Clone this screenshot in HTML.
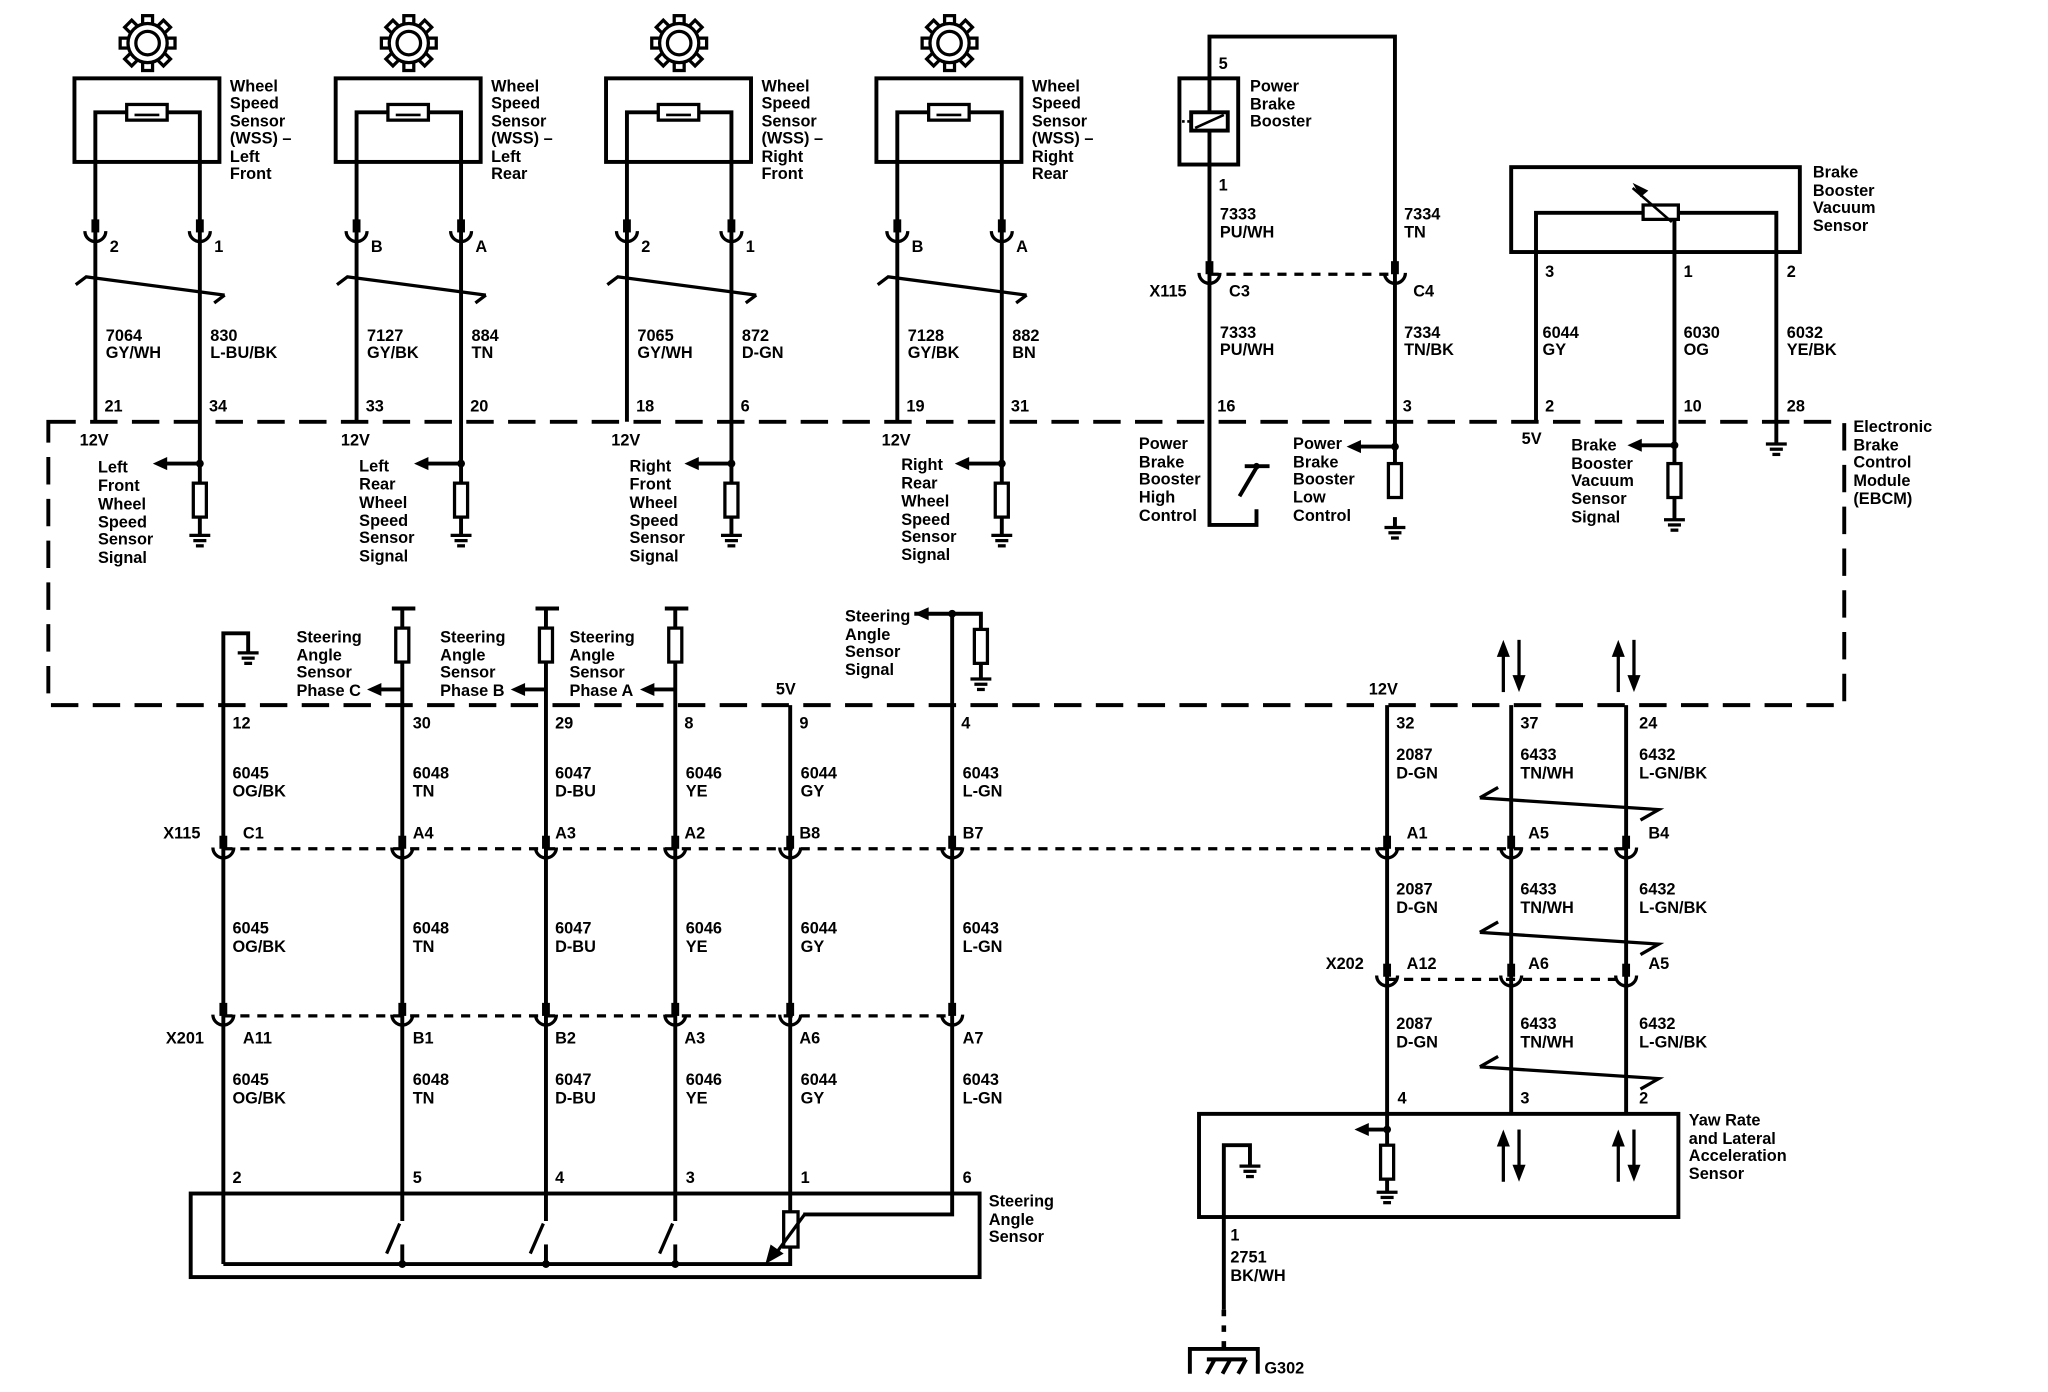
<!DOCTYPE html>
<html><head><meta charset="utf-8"><style>
html,body{margin:0;padding:0;background:#fff;width:2048px;height:1392px;overflow:hidden}
svg{display:block}
text{font-family:"Liberation Sans",Arial,sans-serif;font-size:12.5px;font-weight:bold;fill:#000}
</style></head><body>
<svg width="2048" height="1392" viewBox="0 0 1568 1066" preserveAspectRatio="none">
<defs>
<rect id="tooth" x="12" y="-3.8" width="9" height="7.6" fill="#fff" stroke="#000" stroke-width="2.5"/>
<g id="gear">
<use href="#tooth"/><use href="#tooth" transform="rotate(45)"/><use href="#tooth" transform="rotate(90)"/><use href="#tooth" transform="rotate(135)"/>
<use href="#tooth" transform="rotate(180)"/><use href="#tooth" transform="rotate(225)"/><use href="#tooth" transform="rotate(270)"/><use href="#tooth" transform="rotate(315)"/>
<circle r="15" fill="#fff" stroke="#000" stroke-width="2.5"/>
<circle r="9" fill="none" stroke="#000" stroke-width="2.5"/>
</g>
<g id="gnd" stroke="#000" stroke-width="2.5">
<line x1="-8" y1="0" x2="8" y2="0"/><line x1="-5" y1="4" x2="5" y2="4"/><line x1="-3" y1="8" x2="3" y2="8"/>
</g>
<g id="cup" fill="none" stroke="#000">
<line x1="0" y1="-12" x2="0" y2="-2" stroke-width="6"/>
<path d="M-8,-3 A8,8 0 0 0 8,-3" stroke-width="2.5"/>
</g>
<g id="res"><rect x="-5" y="0" width="10" height="26" fill="#fff" stroke="#000" stroke-width="2.5"/></g>
<g id="al"><polygon points="0,-5 -11,0 0,5" fill="#000"/></g>
</defs>
<g stroke="#000" stroke-width="2.5" fill="none">
<rect x="37" y="323" width="1375" height="217" stroke-width="3" stroke-dasharray="21 11"/>
</g>

<g id="wss">
<use href="#gear" x="113" y="33"/>
<g stroke="#000" stroke-width="3" fill="none">
<rect x="57" y="60" width="111" height="64"/>
<polyline points="73,323 73,86 97,86"/>
<polyline points="128,86 153,86 153,370"/>
<rect x="97" y="80" width="31" height="12" stroke-width="2.5"/>
<line x1="103" y1="88" x2="122" y2="88" stroke-width="2"/>
<line x1="153" y1="355" x2="126" y2="355"/>
<line x1="153" y1="396" x2="153" y2="410"/>
<polyline points="58,218 66,212 172,226" stroke-width="2.5"/>
<line x1="172" y1="226" x2="164" y2="232" stroke-width="2.5"/>
</g>
<circle cx="153" cy="355" r="3"/>
<use href="#al" x="128" y="355"/>
<use href="#res" x="153" y="370"/>
<use href="#gnd" x="153" y="410"/>
<use href="#cup" x="73" y="180"/><use href="#cup" x="153" y="180"/>
</g>
<use href="#wss" x="200"/>
<use href="#wss" x="407"/>
<use href="#wss" x="614"/>

<text x="176" y="70">Wheel</text><text x="176" y="83">Speed</text><text x="176" y="97">Sensor</text><text x="176" y="110">(WSS) –</text><text x="176" y="124">Left</text><text x="176" y="137">Front</text>
<text x="376" y="70">Wheel</text><text x="376" y="83">Speed</text><text x="376" y="97">Sensor</text><text x="376" y="110">(WSS) –</text><text x="376" y="124">Left</text><text x="376" y="137">Rear</text>
<text x="583" y="70">Wheel</text><text x="583" y="83">Speed</text><text x="583" y="97">Sensor</text><text x="583" y="110">(WSS) –</text><text x="583" y="124">Right</text><text x="583" y="137">Front</text>
<text x="790" y="70">Wheel</text><text x="790" y="83">Speed</text><text x="790" y="97">Sensor</text><text x="790" y="110">(WSS) –</text><text x="790" y="124">Right</text><text x="790" y="137">Rear</text>

<text x="84" y="193">2</text><text x="164" y="193">1</text>
<text x="284" y="193">B</text><text x="364" y="193">A</text>
<text x="491" y="193">2</text><text x="571" y="193">1</text>
<text x="698" y="193">B</text><text x="778" y="193">A</text>

<text x="81" y="261">7064</text><text x="81" y="274">GY/WH</text><text x="161" y="261">830</text><text x="161" y="274">L-BU/BK</text>
<text x="281" y="261">7127</text><text x="281" y="274">GY/BK</text><text x="361" y="261">884</text><text x="361" y="274">TN</text>
<text x="488" y="261">7065</text><text x="488" y="274">GY/WH</text><text x="568" y="261">872</text><text x="568" y="274">D-GN</text>
<text x="695" y="261">7128</text><text x="695" y="274">GY/BK</text><text x="775" y="261">882</text><text x="775" y="274">BN</text>

<text x="80" y="315">21</text><text x="160" y="315">34</text>
<text x="280" y="315">33</text><text x="360" y="315">20</text>
<text x="487" y="315">18</text><text x="567" y="315">6</text>
<text x="694" y="315">19</text><text x="774" y="315">31</text>

<text x="61" y="341">12V</text><text x="261" y="341">12V</text><text x="468" y="341">12V</text><text x="675" y="341">12V</text>

<g>
<text x="75" y="362">Left</text><text x="75" y="376">Front</text><text x="75" y="390">Wheel</text><text x="75" y="404">Speed</text><text x="75" y="417">Sensor</text><text x="75" y="431">Signal</text>
<text x="275" y="361">Left</text><text x="275" y="375">Rear</text><text x="275" y="389">Wheel</text><text x="275" y="403">Speed</text><text x="275" y="416">Sensor</text><text x="275" y="430">Signal</text>
<text x="482" y="361">Right</text><text x="482" y="375">Front</text><text x="482" y="389">Wheel</text><text x="482" y="403">Speed</text><text x="482" y="416">Sensor</text><text x="482" y="430">Signal</text>
<text x="690" y="360">Right</text><text x="690" y="374">Rear</text><text x="690" y="388">Wheel</text><text x="690" y="402">Speed</text><text x="690" y="415">Sensor</text><text x="690" y="429">Signal</text>
</g>

<g stroke="#000" stroke-width="3" fill="none">
<polyline points="926,86 926,28 1068,28 1068,370"/>
<polyline points="926,100 926,402 962,402 962,390"/>
<rect x="903" y="60" width="45" height="66"/>
<rect x="912" y="86" width="28" height="14"/>
<line x1="915" y1="98" x2="937" y2="88" stroke-width="2"/>
<line x1="905" y1="93" x2="912" y2="93" stroke-width="2" stroke-dasharray="2 2"/>
<line x1="926" y1="210" x2="1068" y2="210" stroke-dasharray="7 6" stroke-width="2.5"/>
<line x1="949" y1="380" x2="962" y2="358"/>
<line x1="953" y1="357" x2="972" y2="357"/>
<line x1="1068" y1="342" x2="1040" y2="342"/>
<line x1="1068" y1="396" x2="1068" y2="404"/>
</g>
<circle cx="1068" cy="342" r="3"/><circle cx="962" cy="357" r="2.5"/>
<use href="#al" x="1042" y="342"/>
<use href="#res" x="1068" y="355"/>
<use href="#gnd" x="1068" y="404"/>
<use href="#cup" x="926" y="212"/><use href="#cup" x="1068" y="212"/>
<text x="933" y="53">5</text>
<text x="957" y="70">Power</text><text x="957" y="84">Brake</text><text x="957" y="97">Booster</text>
<text x="933" y="146">1</text>
<text x="934" y="168">7333</text><text x="934" y="182">PU/WH</text>
<text x="1075" y="168">7334</text><text x="1075" y="182">TN</text>
<text x="880" y="227">X115</text><text x="941" y="227">C3</text><text x="1082" y="227">C4</text>
<text x="934" y="259">7333</text><text x="934" y="272">PU/WH</text>
<text x="1075" y="259">7334</text><text x="1075" y="272">TN/BK</text>
<text x="932" y="315">16</text><text x="1074" y="315">3</text>
<text x="872" y="344">Power</text><text x="872" y="358">Brake</text><text x="872" y="371">Booster</text><text x="872" y="385">High</text><text x="872" y="399">Control</text>
<text x="990" y="344">Power</text><text x="990" y="358">Brake</text><text x="990" y="371">Booster</text><text x="990" y="385">Low</text><text x="990" y="399">Control</text>

<g stroke="#000" stroke-width="3" fill="none">
<rect x="1157" y="128" width="221" height="65"/>
<polyline points="1176,323 1176,163 1258,163"/>
<polyline points="1285,163 1360,163 1360,340"/>
<line x1="1282" y1="168" x2="1282" y2="355"/>
<rect x="1258" y="157" width="27" height="11" stroke-width="2.5"/>
<line x1="1250" y1="144" x2="1280" y2="170" stroke-width="2"/>
<line x1="1282" y1="341" x2="1255" y2="341"/>
<line x1="1282" y1="381" x2="1282" y2="398"/>
</g>
<polygon points="1250,140 1262,146 1256,151" fill="#000"/>
<circle cx="1282" cy="341" r="3"/>
<use href="#al" x="1257" y="341"/>
<use href="#res" x="1282" y="355"/>
<use href="#gnd" x="1282" y="398"/>
<use href="#gnd" x="1360" y="340"/>
<text x="1388" y="136">Brake</text><text x="1388" y="150">Booster</text><text x="1388" y="163">Vacuum</text><text x="1388" y="177">Sensor</text>
<text x="1183" y="212">3</text><text x="1289" y="212">1</text><text x="1368" y="212">2</text>
<text x="1181" y="259">6044</text><text x="1181" y="272">GY</text>
<text x="1289" y="259">6030</text><text x="1289" y="272">OG</text>
<text x="1368" y="259">6032</text><text x="1368" y="272">YE/BK</text>
<text x="1183" y="315">2</text><text x="1289" y="315">10</text><text x="1368" y="315">28</text>
<text x="1165" y="340">5V</text>
<text x="1203" y="345">Brake</text><text x="1203" y="359">Booster</text><text x="1203" y="372">Vacuum</text><text x="1203" y="386">Sensor</text><text x="1203" y="400">Signal</text>
<text x="1419" y="331">Electronic</text><text x="1419" y="345">Brake</text><text x="1419" y="358">Control</text><text x="1419" y="372">Module</text><text x="1419" y="386">(EBCM)</text>

<g stroke="#000" stroke-width="3" fill="none">
<polyline points="171,968 171,485 190,485 190,500"/>
<line x1="308" y1="466" x2="308" y2="935"/>
<line x1="418" y1="466" x2="418" y2="935"/>
<line x1="517" y1="466" x2="517" y2="935"/>
<line x1="300" y1="466" x2="318" y2="466"/>
<line x1="410" y1="466" x2="428" y2="466"/>
<line x1="509" y1="466" x2="527" y2="466"/>
<line x1="605" y1="540" x2="605" y2="930"/>
<polyline points="729,470 729,930 615,930"/>
<polyline points="700,470 751,470 751,482"/>
<line x1="751" y1="508" x2="751" y2="520"/>
<line x1="308" y1="528" x2="290" y2="528"/>
<line x1="418" y1="528" x2="400" y2="528"/>
<line x1="517" y1="528" x2="499" y2="528"/>
<line x1="171" y1="650" x2="1245" y2="650" stroke-dasharray="7 6" stroke-width="2.5"/>
<line x1="171" y1="778" x2="729" y2="778" stroke-dasharray="7 6" stroke-width="2.5"/>
<rect x="146" y="914" width="604" height="64"/>
<polyline points="171,968 605,968 605,955"/>
<line x1="308" y1="953" x2="308" y2="968"/><line x1="418" y1="953" x2="418" y2="968"/><line x1="517" y1="953" x2="517" y2="968"/>
<line x1="296" y1="960" x2="306" y2="937" stroke-width="2.5"/>
<line x1="406" y1="960" x2="416" y2="937" stroke-width="2.5"/>
<line x1="505" y1="960" x2="515" y2="937" stroke-width="2.5"/>
</g>
<rect x="303" y="481" width="10" height="26" fill="#fff" stroke="#000" stroke-width="2.5"/>
<rect x="413" y="481" width="10" height="26" fill="#fff" stroke="#000" stroke-width="2.5"/>
<rect x="512" y="481" width="10" height="26" fill="#fff" stroke="#000" stroke-width="2.5"/>
<use href="#res" x="751" y="482"/>
<use href="#gnd" x="751" y="520"/>
<use href="#gnd" x="190" y="500"/>
<circle cx="729" cy="470" r="3"/>
<use href="#al" x="711" y="470"/>
<use href="#al" x="292" y="528"/><use href="#al" x="402" y="528"/><use href="#al" x="501" y="528"/>
<rect x="600" y="928" width="11" height="27" fill="#fff" stroke="#000" stroke-width="2.5"/>
<line x1="616" y1="930" x2="594" y2="960" stroke="#000" stroke-width="2.5"/>
<polygon points="586,968 590,953 600,960" fill="#000"/>
<circle cx="308" cy="968" r="3"/><circle cx="418" cy="968" r="3"/><circle cx="517" cy="968" r="3"/>

<text x="227" y="492">Steering</text><text x="227" y="506">Angle</text><text x="227" y="519">Sensor</text><text x="227" y="533">Phase C</text>
<text x="337" y="492">Steering</text><text x="337" y="506">Angle</text><text x="337" y="519">Sensor</text><text x="337" y="533">Phase B</text>
<text x="436" y="492">Steering</text><text x="436" y="506">Angle</text><text x="436" y="519">Sensor</text><text x="436" y="533">Phase A</text>
<text x="594" y="532">5V</text>
<text x="647" y="476">Steering</text><text x="647" y="490">Angle</text><text x="647" y="503">Sensor</text><text x="647" y="517">Signal</text>

<text x="178" y="558">12</text><text x="316" y="558">30</text><text x="425" y="558">29</text><text x="524" y="558">8</text><text x="612" y="558">9</text><text x="736" y="558">4</text>
<g>
<text x="178" y="596">6045</text><text x="178" y="610">OG/BK</text>
<text x="316" y="596">6048</text><text x="316" y="610">TN</text>
<text x="425" y="596">6047</text><text x="425" y="610">D-BU</text>
<text x="525" y="596">6046</text><text x="525" y="610">YE</text>
<text x="613" y="596">6044</text><text x="613" y="610">GY</text>
<text x="737" y="596">6043</text><text x="737" y="610">L-GN</text>
</g>
<text x="125" y="642">X115</text><text x="186" y="642">C1</text><text x="316" y="642">A4</text><text x="425" y="642">A3</text><text x="524" y="642">A2</text><text x="612" y="642">B8</text><text x="737" y="642">B7</text>
<use href="#cup" x="171" y="652"/><use href="#cup" x="308" y="652"/><use href="#cup" x="418" y="652"/><use href="#cup" x="517" y="652"/><use href="#cup" x="605" y="652"/><use href="#cup" x="729" y="652"/>
<g>
<text x="178" y="715">6045</text><text x="178" y="729">OG/BK</text>
<text x="316" y="715">6048</text><text x="316" y="729">TN</text>
<text x="425" y="715">6047</text><text x="425" y="729">D-BU</text>
<text x="525" y="715">6046</text><text x="525" y="729">YE</text>
<text x="613" y="715">6044</text><text x="613" y="729">GY</text>
<text x="737" y="715">6043</text><text x="737" y="729">L-GN</text>
</g>
<use href="#cup" x="171" y="780"/><use href="#cup" x="308" y="780"/><use href="#cup" x="418" y="780"/><use href="#cup" x="517" y="780"/><use href="#cup" x="605" y="780"/><use href="#cup" x="729" y="780"/>
<text x="127" y="799">X201</text><text x="186" y="799">A11</text><text x="316" y="799">B1</text><text x="425" y="799">B2</text><text x="524" y="799">A3</text><text x="612" y="799">A6</text><text x="737" y="799">A7</text>
<g>
<text x="178" y="831">6045</text><text x="178" y="845">OG/BK</text>
<text x="316" y="831">6048</text><text x="316" y="845">TN</text>
<text x="425" y="831">6047</text><text x="425" y="845">D-BU</text>
<text x="525" y="831">6046</text><text x="525" y="845">YE</text>
<text x="613" y="831">6044</text><text x="613" y="845">GY</text>
<text x="737" y="831">6043</text><text x="737" y="845">L-GN</text>
</g>
<text x="178" y="906">2</text><text x="316" y="906">5</text><text x="425" y="906">4</text><text x="525" y="906">3</text><text x="613" y="906">1</text><text x="737" y="906">6</text>
<text x="757" y="924">Steering</text><text x="757" y="938">Angle</text><text x="757" y="951">Sensor</text>

<g stroke="#000" stroke-width="3" fill="none">
<line x1="1062" y1="540" x2="1062" y2="877"/>
<line x1="1157" y1="540" x2="1157" y2="853"/>
<line x1="1245" y1="540" x2="1245" y2="853"/>
<line x1="1062" y1="750" x2="1245" y2="750" stroke-dasharray="7 6" stroke-width="2.5"/>
<rect x="918" y="853" width="367" height="79"/>
<line x1="1062" y1="865" x2="1045" y2="865"/>
<line x1="1062" y1="903" x2="1062" y2="913"/>
<polyline points="937,1003 937,877 957,877 957,893"/>
<line x1="937" y1="1003" x2="937" y2="1033" stroke-dasharray="5 7" stroke-width="3.5"/>
<polyline points="911,1052 911,1033 963,1033 963,1052"/>
<line x1="924" y1="1052" x2="930" y2="1041"/>
<line x1="936" y1="1052" x2="942" y2="1041"/>
<line x1="948" y1="1052" x2="954" y2="1041"/>
<line x1="924" y1="1041" x2="954" y2="1041"/>
</g>
<g stroke="#000" stroke-width="2.5" fill="none">
<polyline points="1133,611 1147,603"/><polyline points="1133,611 1270,620 1256,628"/>
<polyline points="1133,714 1147,706"/><polyline points="1133,714 1270,723 1256,731"/>
<polyline points="1133,817 1147,809"/><polyline points="1133,817 1270,826 1256,834"/>
</g>
<g id="ud" stroke="#000" stroke-width="2.5">
<line x1="1151" y1="530" x2="1151" y2="500"/><polygon points="1146,503 1151,490 1156,503" fill="#000" stroke="none"/>
<line x1="1163" y1="490" x2="1163" y2="520"/><polygon points="1158,517 1163,530 1168,517" fill="#000" stroke="none"/>
</g>
<use href="#ud" x="88"/>
<use href="#ud" y="375"/>
<use href="#ud" x="88" y="375"/>
<circle cx="1062" cy="865" r="3"/>
<use href="#al" x="1048" y="865"/>
<use href="#res" x="1062" y="877"/>
<use href="#gnd" x="1062" y="913"/>
<use href="#gnd" x="957" y="893"/>
<use href="#cup" x="1062" y="652"/><use href="#cup" x="1157" y="652"/><use href="#cup" x="1245" y="652"/>
<use href="#cup" x="1062" y="750"/><use href="#cup" x="1157" y="750"/><use href="#cup" x="1245" y="750"/>
<text x="1048" y="532">12V</text>
<text x="1069" y="558">32</text><text x="1164" y="558">37</text><text x="1255" y="558">24</text>
<text x="1069" y="582">2087</text><text x="1069" y="596">D-GN</text><text x="1164" y="582">6433</text><text x="1164" y="596">TN/WH</text><text x="1255" y="582">6432</text><text x="1255" y="596">L-GN/BK</text>
<text x="1077" y="642">A1</text><text x="1170" y="642">A5</text><text x="1262" y="642">B4</text>
<text x="1069" y="685">2087</text><text x="1069" y="699">D-GN</text><text x="1164" y="685">6433</text><text x="1164" y="699">TN/WH</text><text x="1255" y="685">6432</text><text x="1255" y="699">L-GN/BK</text>
<text x="1015" y="742">X202</text><text x="1077" y="742">A12</text><text x="1170" y="742">A6</text><text x="1262" y="742">A5</text>
<text x="1069" y="788">2087</text><text x="1069" y="802">D-GN</text><text x="1164" y="788">6433</text><text x="1164" y="802">TN/WH</text><text x="1255" y="788">6432</text><text x="1255" y="802">L-GN/BK</text>
<text x="1070" y="845">4</text><text x="1164" y="845">3</text><text x="1255" y="845">2</text>
<text x="1293" y="862">Yaw Rate</text><text x="1293" y="876">and Lateral</text><text x="1293" y="889">Acceleration</text><text x="1293" y="903">Sensor</text>
<text x="942" y="950">1</text>
<text x="942" y="967">2751</text><text x="942" y="981">BK/WH</text>
<text x="968" y="1052">G302</text>
</svg>
</body></html>
